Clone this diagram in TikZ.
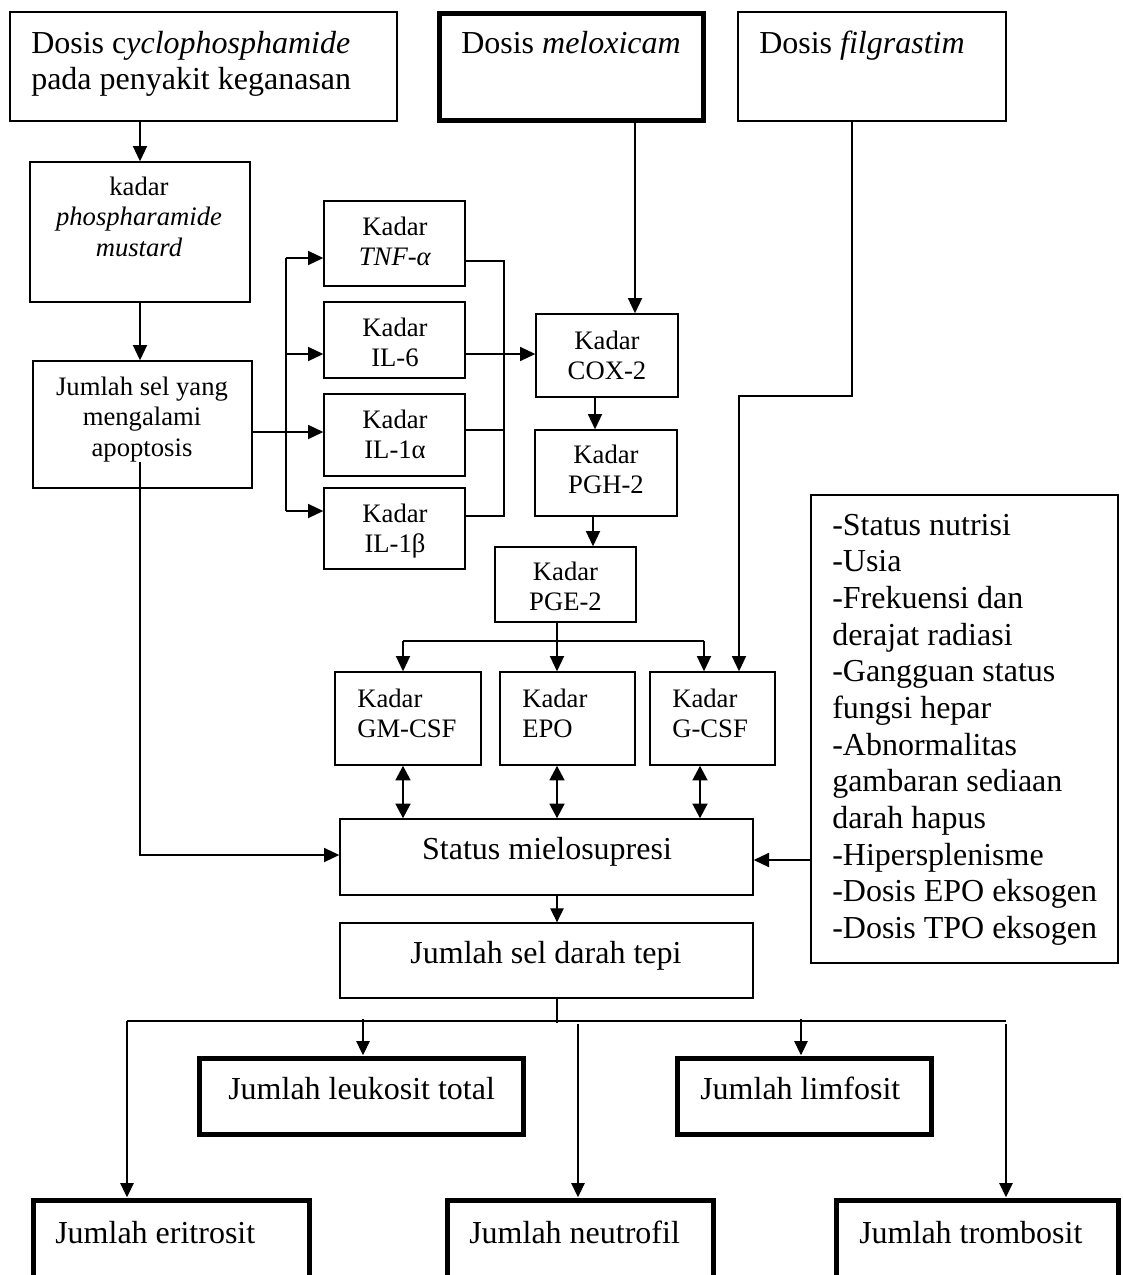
\documentclass[tikz,border=0pt]{standalone}
\usepackage{fontspec}
\setmainfont{Liberation Serif}
\usetikzlibrary{arrows.meta,fit,calc}
\newcommand\fB{\fontsize{24}{27.5}\selectfont}
\newcommand\fS{\fontsize{20}{23}\selectfont}
\begin{document}
\begin{tikzpicture}[x=0.75pt,y=-0.75pt,
  bx/.style={draw, line width=1pt, inner sep=0pt},
  tbx/.style={draw, line width=3.75pt, inner sep=0pt},
  tip/.style={-{Triangle[length=11.5pt,width=10.5pt]}},
  tipS/.style={-{Triangle[length=10.5pt,width=10pt]}},
  dbl/.style={line width=2pt,{Triangle[length=11pt,width=11pt]}-{Triangle[length=11pt,width=11pt]}},
  conn/.style={line width=1.4pt},
  thinln/.style={line width=0.9pt},
  tB/.style={font=\fB, inner sep=0pt},
  tS/.style={font=\fS, inner sep=0pt},
]
\useasboundingbox (0,0) rectangle (1122,1275);
\clip (0,0) rectangle (1122,1275);

% ---------- boxes ----------
\node[bx, fit={(10,12)(397,121)}] (cyc) {};
\node[tbx, fit={(439.5,13.5)(703.5,120.5)}] (melox) {};
\node[bx, fit={(738,12)(1006,121)}] (filg) {};
\node[bx, fit={(30,162)(250,302)}] (phos) {};
\node[bx, fit={(33,361)(252,488)}] (apop) {};
\node[bx, fit={(324,201)(465,286)}] (tnf) {};
\node[bx, fit={(324,302)(465,378)}] (il6) {};
\node[bx, fit={(324,394)(465,476)}] (il1a) {};
\node[bx, fit={(324,488)(465,569)}] (il1b) {};
\node[bx, fit={(536,314)(678,397)}] (cox) {};
\node[bx, fit={(535,430)(677,516)}] (pgh) {};
\node[bx, fit={(495,547)(636,622)}] (pge) {};
\node[bx, fit={(335,672)(481,765)}] (gm) {};
\node[bx, fit={(500,672)(635,765)}] (epo) {};
\node[bx, fit={(650,672)(775,765)}] (gcsf) {};
\node[bx, fit={(340,819)(753,895)}] (status) {};
\node[bx, fit={(340,923)(753,998)}] (jsel) {};
\node[bx, fit={(811,495)(1118,963)}] (factors) {};
\node[tbx, fit={(199.5,1058.5)(523.5,1134.5)}] (leuk) {};
\node[tbx, fit={(677.5,1058.5)(931.5,1134.5)}] (limf) {};
\node[tbx, fit={(33.5,1200.5)(309.5,1278)}] (erit) {};
\node[tbx, fit={(447.5,1200.5)(713.5,1278)}] (neut) {};
\node[tbx, fit={(836.5,1200.5)(1118.5,1278)}] (tromb) {};

% ---------- texts ----------
\node[tB, align=left, anchor=north west] (tcyc) at (31,27.3)
  {\strut Dosis c\textit{yclophosphamide}\\pada penyakit keganasan};
\node[tB, anchor=base west] (tmel) at (461,53) {Dosis \textit{meloxicam}};
\node[tB, anchor=base west] (tfil) at (759,53) {Dosis \textit{filgrastim}};
\node[tS, align=center, anchor=north] (tphos) at (139,173.5)
  {\strut kadar\\\textit{phospharamide}\\\textit{mustard}};
\node[tS, align=center, anchor=north] (tapop) at (142,373.5)
  {\strut Jumlah sel yang\\mengalami\\apoptosis};
\node[tS, align=center, anchor=north] (ttnf) at (395,213.5) {\strut Kadar\\\textit{TNF-α}};
\node[tS, align=center, anchor=north] (til6) at (395,314.5) {\strut Kadar\\IL-6};
\node[tS, align=center, anchor=north] (til1a) at (395,406.5) {\strut Kadar\\IL-1α};
\node[tS, align=center, anchor=north] (til1b) at (395,500.5) {\strut Kadar\\IL-1β};
\node[tS, align=center, anchor=north] (tcox) at (607,327.5) {\strut Kadar\\COX-2};
\node[tS, align=center, anchor=north] (tpgh) at (606,441.5) {\strut Kadar\\PGH-2};
\node[tS, align=center, anchor=north] (tpge) at (565.5,558.5) {\strut Kadar\\PGE-2};
\node[tS, align=left, anchor=north west] (tgm) at (357,685.5) {\strut Kadar\\GM-CSF};
\node[tS, align=left, anchor=north west] (tepo) at (522,685.5) {\strut Kadar\\EPO};
\node[tS, align=left, anchor=north west] (tgcsf) at (672,685.5) {\strut Kadar\\G-CSF};
\node[tB, anchor=base] (tstat) at (547,859) {Status mielosupresi};
\node[tB, anchor=base] (tjsel) at (546,963) {Jumlah sel darah tepi};
\node[tB, align=left, anchor=north west] (tfac) at (832,509.3)
  {\strut -Status nutrisi\\-Usia\\-Frekuensi dan\\derajat radiasi\\-Gangguan status\\fungsi hepar\\-Abnormalitas\\gambaran sediaan\\darah hapus\\-Hipersplenisme\\-Dosis EPO eksogen\\-Dosis TPO eksogen};
\node[tB, anchor=base west] (tleuk) at (228,1099) {Jumlah leukosit total};
\node[tB, anchor=base west] (tlimf) at (700,1099) {Jumlah limfosit};
\node[tB, anchor=base west] (terit) at (55,1243) {Jumlah eritrosit};
\node[tB, anchor=base west] (tneut) at (469,1243) {Jumlah neutrofil};
\node[tB, anchor=base west] (ttromb) at (859,1243) {Jumlah trombosit};

% ---------- connectors ----------
\draw[conn,tip] (cyc.south -| phos.north) -- (phos.north);
\draw[conn,tip] (phos.south) -- (phos.south |- apop.north);
\draw[conn,tip] (apop.east |- 0,432) -- (il1a.west |- 0,432);
\coordinate (busT) at (286,258);
\coordinate (busB) at (286,511);
\draw[conn] (busT) -- (busB);
\draw[conn,tip] (busT) -- (tnf.west |- busT);
\draw[conn,tip] (busT |- 0,354) -- (il6.west |- 0,354);
\draw[conn,tip] (busB) -- (il1b.west |- busB);
\draw[conn] (tnf.east |- 0,261) -- (504,261) -- (504,516) -- (il1b.east |- 0,516);
\draw[conn] (il1a.east |- 0,430) -- (504,430);
\draw[conn,tip] (il6.east |- 0,354) -- (cox.west |- 0,354);
\draw[conn,tip] (melox.south -| 635,0) -- (cox.north -| 635,0);
\draw[conn,tip] (cox.south -| 595,0) -- (pgh.north -| 595,0);
\draw[conn,tip] (pgh.south -| 593,0) -- (pge.north -| 593,0);
\coordinate (pgeb) at (557,641);
\draw[conn] (pge.south -| pgeb) -- (pgeb);
\draw[conn] (403,641) -- (704,641);
\draw[conn,tip] (403,641) -- (gm.north -| 403,0);
\draw[conn,tip] (pgeb) -- (epo.north -| pgeb);
\draw[conn,tip] (704,641) -- (gcsf.north -| 704,0);
\draw[conn,tip] (filg.south -| 852,0) -- (852,396) -- (739,396) -- (gcsf.north -| 739,0);
\draw[dbl] (gm.south -| 403,0) -- (status.north -| 403,0);
\draw[dbl] (epo.south -| 557,0) -- (status.north -| 557,0);
\draw[dbl] (gcsf.south -| 700,0) -- (status.north -| 700,0);
\coordinate (apin) at (140,462);
\draw[conn,tip] (apin) -- (140,855) -- (status.west |- 0,855);
\draw[conn,tip] (factors.west |- 0,860) -- (status.east |- 0,860);
\draw[thinln,tipS] (status.south -| 557,0) -- (jsel.north -| 557,0);
\draw[thinln] (jsel.south -| 557,0) -- (557,1023);
\draw[thinln] (127,1021) -- (1006,1021);
\draw[thinln,tipS] (127,1021) -- ([yshift=0.6pt]erit.north -| 127,0);
\draw[thinln,tipS] (363,1019) -- ([yshift=0.6pt]leuk.north -| 363,0);
\draw[thinln,tipS] (801,1019) -- ([yshift=0.6pt]limf.north -| 801,0);
\draw[thinln,tipS] (578,1024) -- ([yshift=0.6pt]neut.north -| 578,0);
\draw[thinln,tipS] (1006,1024) -- ([yshift=0.6pt]tromb.north -| 1006,0);
\end{tikzpicture}
\end{document}
